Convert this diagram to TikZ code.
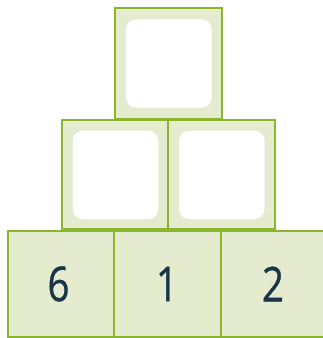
\documentclass[tikz,border=0pt]{standalone}
\usepackage{fontspec}
\newfontfamily\digitfont[FakeBold=0.8]{Open Sans}
\definecolor{boxgreen}{RGB}{139,182,43}
\definecolor{boxfill}{RGB}{228,235,207}
\definecolor{digitblue}{RGB}{24,54,72}
\tikzset{
  cell/.style={draw=boxgreen, fill=boxfill, line width=2pt, minimum width=107pt, minimum height=107pt, inner sep=0pt, outer sep=0pt},
  hole/.style={fill=white, rounded corners=10pt, minimum width=85.5pt, minimum height=88.4pt, inner sep=0pt},
  digit/.style={text=digitblue, font=\digitfont\fontsize{48}{48}\selectfont, xscale=0.8}
}
\begin{document}
\begin{tikzpicture}[x=1pt,y=-1pt]
\useasboundingbox (0,0) rectangle (323,338);
\clip (0,0) rectangle (323,338);
% top
\node[cell, minimum width=107pt, minimum height=111pt] (top) at (168.5,63.5) {};
\node[hole] (toph) at (168.8,63.5) {};
% middle
\node[cell, minimum width=106.5pt, minimum height=109pt] (ml) at (115,174.5) {};
\node[cell, minimum width=106.5pt, minimum height=109pt] (mr) at (221.5,174.5) {};
\node[hole] (mlh) at (115.5,174.9) {};
\node[hole] (mrh) at (221.8,174.9) {};
% bottom
\node[cell, minimum height=106pt] (bl) at (61,284) {};
\node[cell, minimum height=106pt] (bm) at (167.7,284) {};
\node[cell, minimum height=106pt] (br) at (274.5,284) {};
\node[digit] (d6) at (58.5,284) {6};
\node[digit] (d1) at (167,284) {1};
\node[digit] (d2) at (273,284) {2};
\end{tikzpicture}
\end{document}
